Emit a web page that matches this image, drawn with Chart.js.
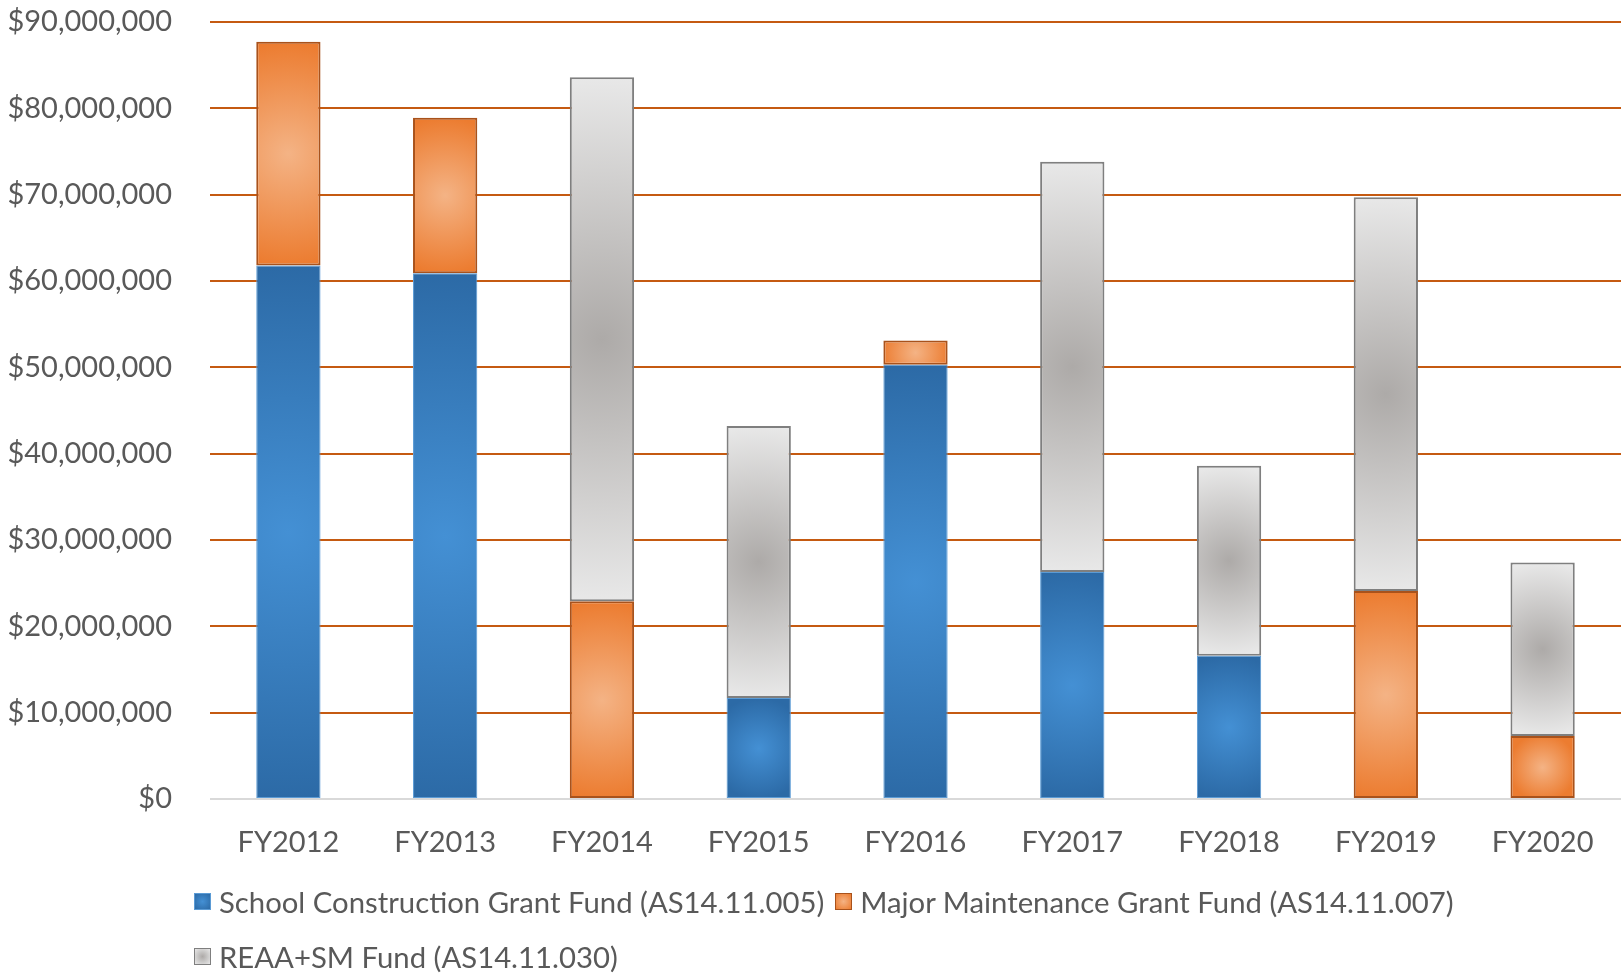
<!DOCTYPE html>
<html>
<head>
<meta charset="utf-8">
<script src="https://cdn.jsdelivr.net/npm/chart.js@4.4.1/dist/chart.umd.min.js"></script>
<style>
  html, body { margin: 0; padding: 0; background: #fff; }
  #wrap { position: relative; width: 1621px; height: 973px; }
  #legend {
    position: absolute; left: 194px; top: 874px; width: 1400px;
    display: flex; flex-wrap: wrap;
    font-family: Lato, sans-serif; font-size: 29.3px; color: #595959;
  }
  .item { display: flex; align-items: center; height: 55px; margin-right: 11px; white-space: nowrap; }
  .box { width: 17px; height: 17px; margin-right: 8px; box-sizing: border-box; }
</style>
</head>
<body>
<div id="wrap">
  <canvas id="fundChart"></canvas>
  <div id="legend"></div>
</div>
<script>
// Fiscal years and fund amounts (dollars)
const years = ['FY2012', 'FY2013', 'FY2014', 'FY2015', 'FY2016', 'FY2017', 'FY2018', 'FY2019', 'FY2020'];
const schoolConstruction = [61800000, 60900000, null, 11700000, 50300000, 26300000, 16600000, null, null];
const majorMaintenance = [25900000, 18000000, 22900000, null, 2800000, null, null, 24100000, 7300000];
const reaaSm = [null, null, 60700000, 31500000, null, 47500000, 22000000, 45600000, 20100000];
const yTicks = [0, 10000000, 20000000, 30000000, 40000000, 50000000, 60000000, 70000000, 80000000, 90000000];

const seriesNames = [
    'School Construction Grant Fund (AS14.11.005)',
    'Major Maintenance Grant Fund (AS14.11.007)',
    'REAA+SM Fund (AS14.11.030)'
];

// edge / centre colours for the shaded bars
const shades = [
    { edge: '#2c6aa6', centre: '#4490d4', border: '#5b9bd5', width: 1 },
    { edge: '#ec7c30', centre: '#f4b385', border: '#a9521b', width: 2 },
    { edge: '#e8e8e8', centre: '#adaaa8', border: '#7f7f7f', width: 2 }
];

function shadedFill(shade) {
    return function(context) {
        const chart = context.chart;
        if (context.type !== 'data' || !chart.chartArea || context.raw == null) {
            return shade.edge;
        }
        const x = chart.scales.x;
        const y = chart.scales.y;
        const i = context.dataIndex;
        let base = 0;
        for (let d = 0; d < context.datasetIndex; d++) {
            base += chart.data.datasets[d].data[i] || 0;
        }
        const y0 = y.getPixelForValue(base);
        const y1 = y.getPixelForValue(base + context.raw);
        const cx = x.getPixelForValue(i);
        const cy = (y0 + y1) / 2;
        const r = Math.max((y0 - y1) / 2, 34);
        const g = chart.ctx.createRadialGradient(cx, cy, 0, cx, cy, r);
        g.addColorStop(0, shade.centre);
        g.addColorStop(1, shade.edge);
        return g;
    };
}

const seriesData = [schoolConstruction, majorMaintenance, reaaSm];

const datasets = seriesData.map((values, k) => ({
    label: seriesNames[k],
    data: values,
    backgroundColor: shadedFill(shades[k]),
    borderColor: shades[k].border,
    borderWidth: shades[k].width,
    borderSkipped: false,
    barPercentage: 0.41,
    categoryPercentage: 1.0
}));

const tickFont = { family: 'Lato, sans-serif', size: 29 };

const ctx = document.getElementById('fundChart');
ctx.width = 1621;
ctx.height = 973;

new Chart(ctx, {
    type: 'bar',
    data: { labels: years, datasets: datasets },
    options: {
        responsive: false,
        animation: false,
        layout: { padding: { top: 22, right: 0, bottom: 114, left: 0 } },
        plugins: {
            legend: { display: false },
            tooltip: { enabled: false }
        },
        scales: {
            x: {
                stacked: true,
                grid: { display: false, drawTicks: false },
                border: { display: false },
                ticks: { color: '#595959', font: tickFont, padding: 26, maxRotation: 0 },
                afterFit: (scale) => { scale.height = 60; }
            },
            y: {
                stacked: true,
                min: 0,
                max: 90000000,
                afterBuildTicks: (scale) => { scale.ticks = yTicks.map(v => ({ value: v })); },
                grid: {
                    drawTicks: false,
                    lineWidth: 2,
                    color: (c) => (c.tick && c.tick.value === 0) ? '#d9d9d9' : '#c55a11'
                },
                border: { display: false },
                ticks: {
                    color: '#595959',
                    font: tickFont,
                    padding: 38,
                    callback: (v) => '$' + Number(v).toLocaleString('en-US')
                },
                afterFit: (scale) => {
                    scale.width = 210;
                    scale.paddingTop = 0;
                    scale.paddingBottom = 0;
                }
            }
        }
    }
});

// legend laid out like the original: two entries on the first row, one below
const legendBoxes = [
    'radial-gradient(circle, #4490d4, #2c6aa6)',
    'radial-gradient(circle, #f4b385, #ec7c30)',
    'radial-gradient(circle, #adaaa8, #e8e8e8)'
];
const legend = document.getElementById('legend');
seriesNames.forEach((name, k) => {
    const item = document.createElement('div');
    item.className = 'item';
    const box = document.createElement('span');
    box.className = 'box';
    box.style.background = legendBoxes[k];
    box.style.border = '1px solid ' + shades[k].border;
    const text = document.createElement('span');
    text.textContent = name;
    item.appendChild(box);
    item.appendChild(text);
    legend.appendChild(item);
});
</script>
</body>
</html>
